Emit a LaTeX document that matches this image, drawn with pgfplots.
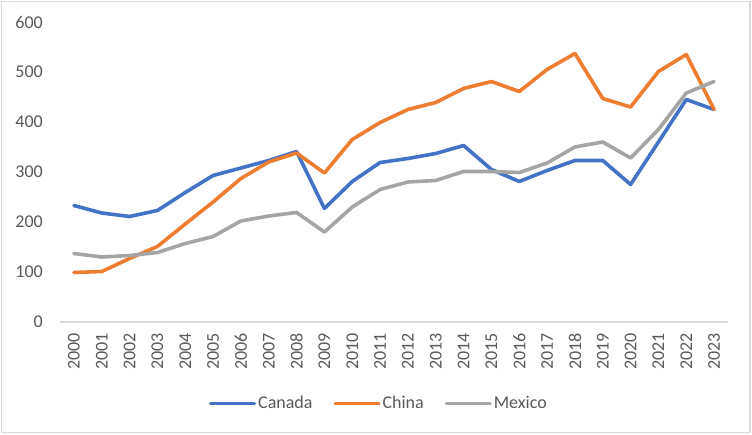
\documentclass[border=0pt]{standalone}
\usepackage{pgfplots}
\pgfplotsset{compat=1.18}
\usepackage{fontspec}
\setmainfont{Carlito}
\definecolor{cblue}{HTML}{4472C4}
\definecolor{corange}{HTML}{ED7D31}
\definecolor{cgray}{HTML}{A5A5A5}
\definecolor{txt}{HTML}{595959}
\definecolor{rule}{HTML}{D9D9D9}
\begin{document}
\begin{tikzpicture}[x=1pt,y=1pt]
\useasboundingbox (0,0) rectangle (752,434);
\draw[rule, line width=1.3pt] (1.5,1.5) rectangle (750,432.5);
\begin{axis}[
    at={(60pt,112pt)}, anchor=south west,
    scale only axis,
    width=668pt, height=300pt,
    xmin=-0.5, xmax=23.5,
    ymin=0, ymax=600,
    ytick={0,100,...,600},
    xtick={0,...,23},
    xticklabels={2000,2001,2002,2003,2004,2005,2006,2007,2008,2009,2010,2011,2012,2013,2014,2015,2016,2017,2018,2019,2020,2021,2022,2023},
    axis line style={draw=none},
    major tick length=0pt,
    tick style={draw=none},
    /pgf/number format/assume math mode=true,
    ticklabel style={font=\fontsize{18}{21}\selectfont, text=txt},
    yticklabel style={anchor=east, inner sep=0pt, xshift=-17pt},
    xticklabel style={yshift=-11pt, rotate=90, anchor=east, inner sep=0pt},
    clip=false,
    legend columns=3,
    legend style={at={(0.4775,-0.27)}, anchor=center, draw=none, fill=none,
        font=\fontsize{18}{21}\selectfont, text=txt,
        /tikz/every even column/.append style={column sep=19pt},
        inner sep=0pt},
    legend image code/.code={\draw[#1, line width=3pt] (0pt,0pt) -- (44pt,0pt);},
    every axis plot/.append style={line width=3.6pt, line join=round, line cap=round},
]
\draw[rule, line width=1.5pt] (rel axis cs:0,0) -- (rel axis cs:1,0);
\addplot[cblue] coordinates {
(0,233) (1,218) (2,211) (3,223) (4,259) (5,293) (6,308) (7,323) (8,341)
(9,227) (10,281) (11,319) (12,327) (13,337) (14,353) (15,305) (16,281)
(17,303) (18,323) (19,323) (20,275) (21,360) (22,445) (23,425)};
\addlegendentry{Canada}
\addplot[corange] coordinates {
(0,99) (1,101) (2,127) (3,151) (4,196) (5,240) (6,287) (7,320) (8,338)
(9,298) (10,365) (11,399) (12,425) (13,439) (14,467) (15,481) (16,461)
(17,505) (18,537) (19,447) (20,430) (21,501) (22,535) (23,425)};
\addlegendentry{China}
\addplot[cgray] coordinates {
(0,137) (1,130) (2,133) (3,139) (4,157) (5,171) (6,202) (7,212) (8,219)
(9,180) (10,230) (11,265) (12,280) (13,283) (14,301) (15,301) (16,299)
(17,318) (18,350) (19,360) (20,328) (21,385) (22,458) (23,481)};
\addlegendentry{Mexico}
\end{axis}
\end{tikzpicture}
\end{document}
